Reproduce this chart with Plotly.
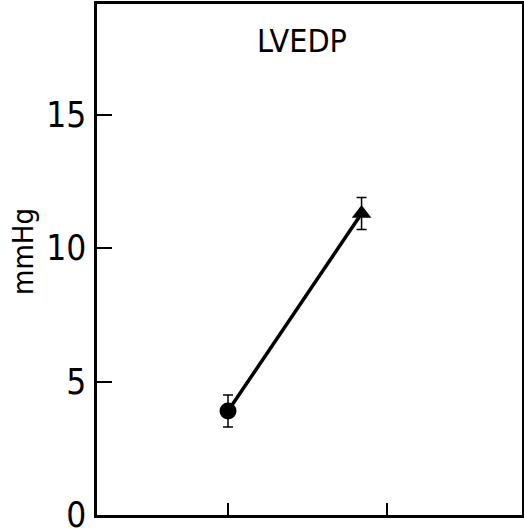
import plotly.graph_objects as go

# Data
groups = ["control", "treated"]
x_pos = [0.0, 0.84]
lvedp = [3.9, 11.3]
lvedp_err = [0.6, 0.6]
symbols = ["circle", "triangle-up"]
y_ticks = [0, 5, 10, 15]
x_ticks = [0, 1]

FONT = "DejaVu Sans Condensed, Liberation Sans Narrow, sans-serif"

fig = go.Figure()
fig.add_trace(go.Scatter(
    x=x_pos, y=lvedp, mode="lines+markers",
    line=dict(color="black", width=3.5),
    marker=dict(symbol=symbols, size=17, color="black"),
    error_y=dict(type="data", array=lvedp_err, visible=True,
                 color="black", thickness=1.5, width=5),
    text=groups, showlegend=False,
))

fig.update_layout(
    width=524, height=529,
    margin=dict(l=97, r=2, t=4, b=14),
    paper_bgcolor="white", plot_bgcolor="white",
    font=dict(family=FONT, color="black"),
    xaxis=dict(range=[-0.824, 1.849], tickvals=x_ticks, showticklabels=False,
               ticks="inside", ticklen=12, tickwidth=2, tickcolor="black",
               showline=True, linecolor="black", linewidth=2.5, mirror=True,
               showgrid=False, zeroline=False, automargin=False),
    yaxis=dict(range=[0, 19.15], tickvals=y_ticks, ticktext=[str(v) for v in y_ticks],
               ticks="inside", ticklen=15, tickwidth=2, tickcolor="black",
               showline=True, linecolor="black", linewidth=2.5, mirror=True,
               showgrid=False, zeroline=False, ticklabeloverflow="allow",
               ticklabelstandoff=1, automargin=False,
               tickfont=dict(family=FONT, size=35, color="black")),
    annotations=[
        dict(text="LVEDP", xref="paper", yref="paper", x=0.483, y=0.927,
             showarrow=False, font=dict(family=FONT, size=32, color="black"),
             xanchor="center", yanchor="middle"),
        dict(text="mmHg", xref="paper", yref="paper", x=(23 - 97) / 425, y=(515 - 252) / 511,
             showarrow=False, textangle=-90, font=dict(family=FONT, size=29, color="black"),
             xanchor="center", yanchor="middle"),
    ],
)

fig.write_html("out.html")
